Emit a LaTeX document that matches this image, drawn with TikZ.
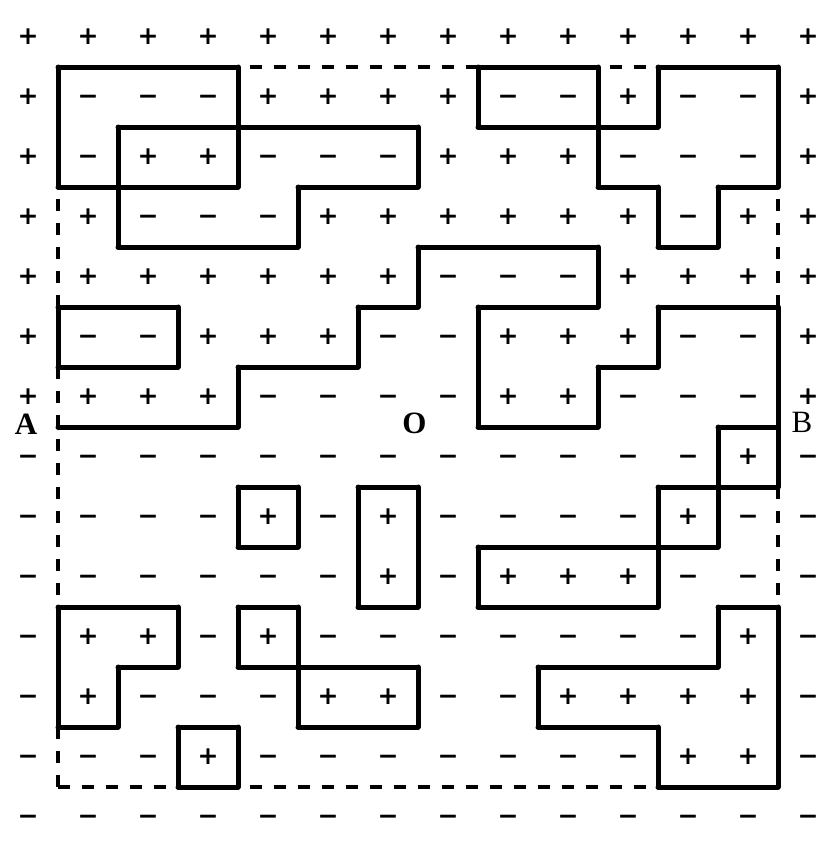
\documentclass[tikz,border=0pt]{standalone}
\usepackage{fontspec}
\setmainfont{Liberation Serif}
\newfontfamily\signfont{DejaVu Sans}
\def\sgp{\vphantom{\char"2212}+}
\def\sgm{\vphantom{+}\char"2212}
\begin{document}
\begin{tikzpicture}[x=1pt,y=-1pt,
  sgn/.style={inner sep=0pt, font=\signfont\bfseries\fontsize{25}{25}\selectfont},
  wall/.style={line width=5pt, line cap=round, line join=round},
  frame/.style={line width=3.2pt, dash pattern=on 12pt off 12pt},
  lbl/.style={inner sep=0pt, font=\fontsize{31}{31}\selectfont}]
\useasboundingbox (0,0) rectangle (830,854);
\fill[white] (0,0) rectangle (830,854);
% signs
\foreach \row [count=\ri from 0] in {
 {p,p,p,p,p,p,p,p,p,p,p,p,p,p},
 {p,m,m,m,p,p,p,p,m,m,p,m,m,p},
 {p,m,p,p,m,m,m,p,p,p,m,m,m,p},
 {p,p,m,m,m,p,p,p,p,p,p,m,p,p},
 {p,p,p,p,p,p,p,m,m,m,p,p,p,p},
 {p,m,m,p,p,p,m,m,p,p,p,m,m,p},
 {p,p,p,p,m,m,m,m,p,p,m,m,m,p},
 {m,m,m,m,m,m,m,m,m,m,m,m,p,m},
 {m,m,m,m,p,m,p,m,m,m,m,p,m,m},
 {m,m,m,m,m,m,p,m,p,p,p,m,m,m},
 {m,p,p,m,p,m,m,m,m,m,m,m,p,m},
 {m,p,m,m,m,p,p,m,m,p,p,p,p,m},
 {m,m,m,p,m,m,m,m,m,m,m,p,p,m},
 {m,m,m,m,m,m,m,m,m,m,m,m,m,m}}{
  \foreach \s [count=\ci from 0] in \row {
    \node[sgn] (s-\ri-\ci) at ({28+60*\ci},{37+60*\ri}) {\csname sg\s\endcsname};
  }
}
% dashed frame
\coordinate (tl) at (58,67);
\coordinate (tr) at (778,67);
\coordinate (bl) at (58,787);
\coordinate (br) at (778,787);
\draw[frame] (tl) -- (tr);
\draw[frame] (bl) -- (br);
\draw[frame] (bl) -- (tl);
\draw[frame] (br) -- (tr);
% contours: horizontal
\draw[wall]
 (58,67)--(238,67) (478,67)--(598,67) (658,67)--(778,67)
 (118,127)--(418,127) (478,127)--(658,127)
 (58,187)--(238,187) (298,187)--(418,187) (598,187)--(658,187) (718,187)--(778,187)
 (118,247)--(298,247) (418,247)--(598,247) (658,247)--(718,247)
 (58,307)--(178,307) (358,307)--(418,307) (478,307)--(598,307) (658,307)--(778,307)
 (58,367)--(178,367) (238,367)--(358,367) (598,367)--(658,367)
 (58,427)--(238,427) (478,427)--(598,427) (718,427)--(778,427)
 (238,487)--(298,487) (358,487)--(418,487) (658,487)--(778,487)
 (238,547)--(298,547) (478,547)--(718,547)
 (58,607)--(178,607) (238,607)--(298,607) (358,607)--(418,607) (478,607)--(658,607) (718,607)--(778,607)
 (118,667)--(178,667) (238,667)--(418,667) (538,667)--(718,667)
 (58,727)--(118,727) (178,727)--(238,727) (298,727)--(418,727) (538,727)--(658,727)
 (178,787)--(238,787) (658,787)--(778,787);
% contours: vertical
\draw[wall]
 (58,67)--(58,187) (58,307)--(58,367) (58,607)--(58,727)
 (118,127)--(118,247) (118,667)--(118,727)
 (178,307)--(178,367) (178,607)--(178,667) (178,727)--(178,787)
 (238,67)--(238,187) (238,367)--(238,427) (238,487)--(238,547) (238,607)--(238,667) (238,727)--(238,787)
 (298,187)--(298,247) (298,487)--(298,547) (298,607)--(298,727)
 (358,307)--(358,367) (358,487)--(358,607)
 (418,127)--(418,187) (418,247)--(418,307) (418,487)--(418,607) (418,667)--(418,727)
 (478,67)--(478,127) (478,307)--(478,427) (478,547)--(478,607)
 (538,667)--(538,727)
 (598,67)--(598,187) (598,247)--(598,307) (598,367)--(598,427)
 (658,67)--(658,127) (658,187)--(658,247) (658,307)--(658,367) (658,487)--(658,607) (658,727)--(658,787)
 (718,187)--(718,247) (718,427)--(718,547) (718,607)--(718,667)
 (778,67)--(778,187) (778,307)--(778,487) (778,607)--(778,787);
% labels
\node[lbl, font=\fontsize{31}{31}\selectfont\bfseries] (A) at (26,424) {A};
\node[lbl, font=\fontsize{31}{31}\selectfont\bfseries] (O) at (414.5,423) {O};
\node[lbl] (B) at (802,422) {B};
\end{tikzpicture}
\end{document}
